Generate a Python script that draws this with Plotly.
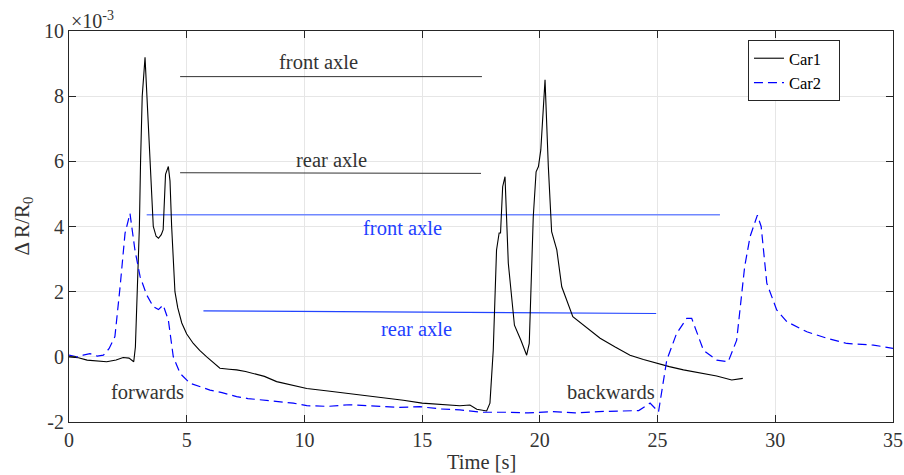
import plotly.graph_objects as go

# ---- data (values in units of 1e-3) ----
t_car1 = [0, 0.4, 0.77, 1.2, 1.6, 2.0, 2.3, 2.55, 2.75, 2.82,
          2.9, 2.99, 3.04, 3.11, 3.23, 3.31, 3.44, 3.58, 3.7, 3.8,
          3.92, 4.0, 4.1, 4.22, 4.29, 4.36, 4.5, 4.62, 4.79, 5.0,
          5.28, 5.55, 5.85, 6.1, 6.41, 6.8, 7.12, 7.5, 7.83, 8.3,
          8.82, 9.5, 10.1, 11.0, 12.0, 12.8, 13.5, 14.2, 15.0, 15.6,
          16.2, 16.6, 17.03, 17.32, 17.74, 17.88, 18.02, 18.16, 18.27, 18.33,
          18.42, 18.52, 18.66, 18.8, 18.92, 19.2, 19.44, 19.55, 19.72, 19.84,
          19.94, 20.04, 20.22, 20.36, 20.5, 20.72, 20.93, 21.4, 22.0, 22.56,
          23.2, 23.83, 24.4, 24.97, 25.5, 26.1, 26.8, 27.51, 28.15, 28.62]
y_car1 = [0, -0.03, -0.1, -0.12, -0.15, -0.1, -0.02, -0.04, -0.15, 0.3,
          2.0, 4.0, 6.0, 8.0, 9.19, 8.0, 6.0, 4.0, 3.7, 3.64,
          3.75, 3.9, 5.6, 5.84, 5.4, 4.0, 2.0, 1.5, 1.04, 0.7,
          0.41, 0.2, 0.0, -0.15, -0.35, -0.38, -0.4, -0.45, -0.51, -0.6,
          -0.76, -0.88, -0.97, -1.05, -1.14, -1.2, -1.26, -1.33, -1.42, -1.45,
          -1.48, -1.5, -1.48, -1.61, -1.66, -1.42, 0.2, 3.28, 3.8, 3.8,
          5.22, 5.53, 2.87, 1.84, 0.97, 0.5, 0.05, 0.41, 4.3, 5.68,
          5.84, 6.35, 8.5, 5.84, 3.84, 3.28, 2.15, 1.23, 0.9, 0.57,
          0.3, 0.05, -0.08, -0.2, -0.3, -0.4, -0.5, -0.59, -0.71, -0.66]

t_car2 = [0, 0.33, 0.6, 0.89, 1.2, 1.46, 1.7, 1.95, 2.17, 2.38,
          2.59, 2.8, 3.02, 3.3, 3.58, 3.8, 4.0, 4.22, 4.43, 4.72,
          5.14, 5.5, 5.99, 6.5, 7.12, 7.6, 8.11, 8.8, 9.53, 10.1,
          11.0, 11.9, 13.0, 14.0, 14.9, 15.8, 16.6, 17.5, 18.5, 19.5,
          20.5, 21.5, 22.5, 23.5, 24.2, 24.68, 25.04, 25.39, 25.81, 26.24,
          26.45, 26.95, 27.51, 28.0, 28.36, 28.7, 28.93, 29.24, 29.4, 29.64,
          30.06, 30.49, 31.34, 32.19, 33.04, 34.17, 35.0]
y_car2 = [0.05, 0, 0.05, 0.1, 0.02, 0.05, 0.25, 0.62, 2.15, 3.79,
          4.4, 3.28, 2.46, 1.9, 1.54, 1.45, 1.59, 1.13, 0, -0.51,
          -0.81, -0.9, -1.02, -1.1, -1.22, -1.28, -1.32, -1.38, -1.42, -1.5,
          -1.52, -1.47, -1.5, -1.55, -1.53, -1.6, -1.63, -1.7, -1.7, -1.72,
          -1.68, -1.72, -1.68, -1.65, -1.65, -1.42, -1.69, -0.1, 0.72, 1.18,
          1.18, 0.2, -0.1, -0.15, 0.51, 2.77, 3.69, 4.35, 4.0, 2.26,
          1.44, 1.08, 0.77, 0.57, 0.41, 0.36, 0.26]

# reference lines (axle levels)
car1_front_t = [4.72, 17.54]
car1_front_y = [8.60, 8.60]
car1_rear_t = [4.72, 17.5]
car1_rear_y = [5.65, 5.63]
car2_front_t = [3.3, 27.65]
car2_front_y = [4.36, 4.36]
car2_rear_t = [5.71, 24.94]
car2_rear_y = [1.41, 1.33]

x_ticks = [0, 5, 10, 15, 20, 25, 30, 35]
y_ticks = [-2, 0, 2, 4, 6, 8, 10]

FONT = "Liberation Serif, Times New Roman, serif"
DARK = "#333333"
BLUE_TXT = "#1f3fff"

fig = go.Figure()
fig.add_trace(go.Scatter(x=car1_front_t, y=car1_front_y, mode="lines",
                         line=dict(color=DARK, width=1), showlegend=False, hoverinfo="skip"))
fig.add_trace(go.Scatter(x=car1_rear_t, y=car1_rear_y, mode="lines",
                         line=dict(color=DARK, width=1), showlegend=False, hoverinfo="skip"))
fig.add_trace(go.Scatter(x=car2_front_t, y=car2_front_y, mode="lines",
                         line=dict(color="#7088ff", width=1.5), showlegend=False, hoverinfo="skip"))
fig.add_trace(go.Scatter(x=car2_rear_t, y=car2_rear_y, mode="lines",
                         line=dict(color="#2244ff", width=1.2), showlegend=False, hoverinfo="skip"))
fig.add_trace(go.Scatter(x=t_car1, y=y_car1, mode="lines", name="Car1&nbsp;&nbsp;&nbsp;",
                         line=dict(color="#000000", width=1.1)))
fig.add_trace(go.Scatter(x=t_car2, y=y_car2, mode="lines", name="Car2&nbsp;&nbsp;&nbsp;",
                         line=dict(color="#0000ff", width=1.2, dash="9px,5px")))

texts = [
    (10.58, 9.05, "front axle", DARK),
    (11.13, 6.04, "rear axle", DARK),
    (14.17, 3.95, "front axle", BLUE_TXT),
    (14.74, 0.85, "rear axle", BLUE_TXT),
    (3.33, -1.08, "forwards", DARK),
    (23.02, -1.08, "backwards", DARK),
]
for x, y, s, c in texts:
    fig.add_annotation(x=x, y=y, xref="x", yref="y", text=s, showarrow=False,
                       xanchor="center", yanchor="middle",
                       font=dict(family=FONT, size=20.5, color=c))

fig.add_annotation(x=0.0, y=1.0, xref="paper", yref="paper", text="×10<sup>-3</sup>",
                   showarrow=False, xanchor="left", yanchor="bottom", yshift=-3,
                   font=dict(family=FONT, size=20, color=DARK))

fig.add_annotation(x=0.5, y=0, xref="paper", yref="paper", text="Time [s]",
                   showarrow=False, xanchor="center", yanchor="top", yshift=-27,
                   font=dict(family=FONT, size=20.5, color=DARK))
fig.add_annotation(x=0, y=0.5, xref="paper", yref="paper", text="Δ R/R<sub>0</sub>",
                   showarrow=False, xanchor="right", yanchor="middle", xshift=-32,
                   textangle=-90, font=dict(family=FONT, size=21, color=DARK))

axis_common = dict(showline=True, linecolor="#262626", linewidth=1, mirror="ticks",
                   ticks="inside", ticklen=7, tickcolor="#262626",
                   showgrid=True, gridcolor="#e6e6e6", gridwidth=1, zeroline=False,
                   automargin=False,
                   tickfont=dict(family=FONT, size=20, color=DARK))

fig.update_xaxes(range=[0, 35], tickvals=x_ticks, ticktext=[str(v) for v in x_ticks],
                 **axis_common)
fig.update_yaxes(range=[-2, 10], tickvals=y_ticks, ticktext=[str(v) for v in y_ticks],
                 **axis_common)

fig.update_layout(
    width=904, height=475,
    margin=dict(l=69, r=11, t=31, b=53),
    paper_bgcolor="white", plot_bgcolor="white",
    font=dict(family=FONT, color=DARK),
    legend=dict(x=0.824, y=0.977, xanchor="left", yanchor="top",
                bgcolor="white", bordercolor="#262626", borderwidth=1,
                font=dict(family=FONT, size=16.5, color="#000000"),
                tracegroupgap=0, itemwidth=30),
)

fig.write_html("out.html", config={"displayModeBar": False},
               post_script="document.body.style.margin='0';document.body.style.overflow='hidden';")
